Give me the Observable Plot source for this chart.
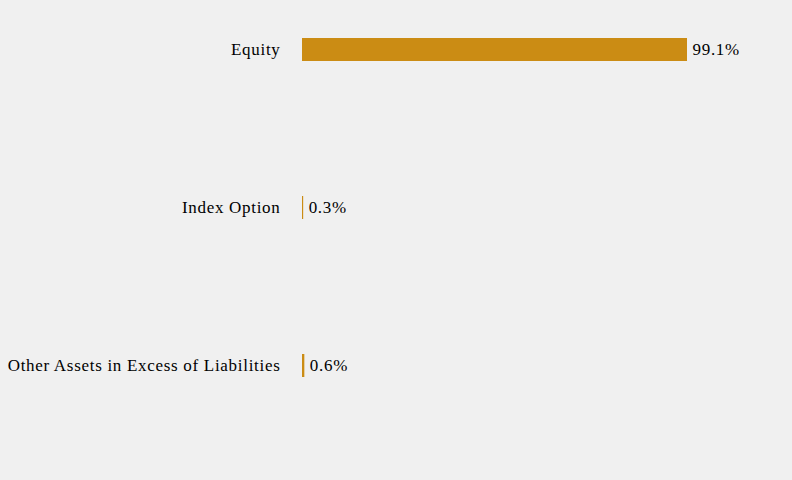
<!DOCTYPE html>
<html>
<head>
<meta charset="utf-8">
<script src="https://cdn.jsdelivr.net/npm/d3@7"></script>
<script src="https://cdn.jsdelivr.net/npm/@observablehq/plot@0.6"></script>
<style>
  html, body { margin: 0; padding: 0; background: #f0f0f0; }
  #chart svg { display: block; }
  #chart svg text { letter-spacing: 0.7px; }
</style>
</head>
<body>
<div id="chart"></div>
<script>
const categories = ["Equity", "Index Option", "Other Assets in Excess of Liabilities"];
const values = [99.1, 0.3, 0.6];
const valueLabels = ["99.1%", "0.3%", "0.6%"];

const data = categories.map((c, i) => ({category: c, value: values[i], label: valueLabels[i]}));

const chart = Plot.plot({
  width: 792,
  height: 480,
  marginTop: 0,
  marginBottom: 65,
  marginLeft: 302,
  marginRight: 101.5,
  style: {background: "#f0f0f0", fontFamily: "'Liberation Serif', 'Times New Roman', serif", fontSize: "17px", color: "#000"},
  x: {domain: [0, 100], axis: null},
  y: {domain: categories, paddingInner: 0.854, paddingOuter: 0.24, axis: null},
  marks: [
    Plot.barX(data, {x: "value", y: "category", fill: "#cb8c14"}),
    Plot.text(data, {x: "value", y: "category", text: "label", textAnchor: "start", dx: 5, fill: "#000", fontSize: 17}),
    Plot.axisY({tickSize: 0, tickPadding: 22, fontSize: 17, label: null})
  ]
});
document.getElementById("chart").appendChild(chart);
</script>
</body>
</html>
